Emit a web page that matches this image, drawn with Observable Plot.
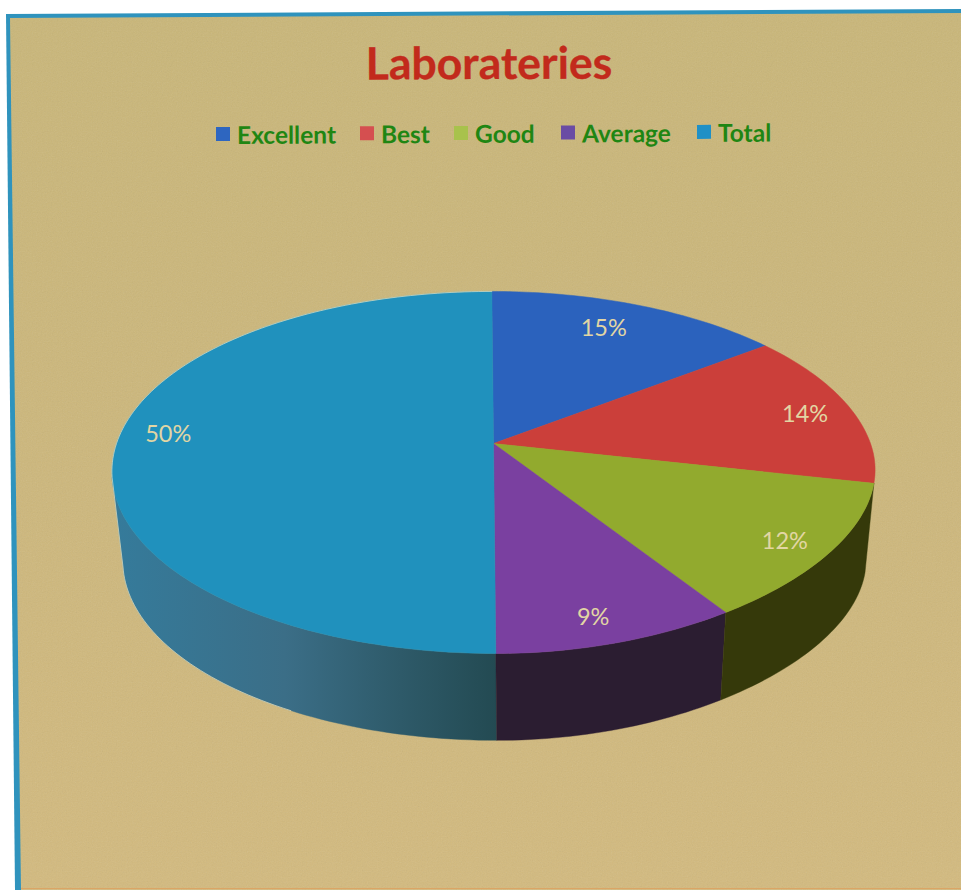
<!DOCTYPE html>
<html>
<head>
<meta charset="utf-8">
<script src="https://cdn.jsdelivr.net/npm/d3@7"></script>
<script src="https://cdn.jsdelivr.net/npm/@observablehq/plot@0.6"></script>
<style>
html,body{margin:0;padding:0;background:#fff;width:961px;height:890px;overflow:hidden}
#border,#paper{position:absolute;left:0;top:0;width:961px;height:890px}
#border{background:#2f93bd;clip-path:polygon(6px 14px,961px 9px,961px 890px,15px 890px)}
#paper{background:linear-gradient(180deg,#c9b678 0%,#cdb77b 55%,#d3ba7e 100%);clip-path:polygon(10px 18px,961px 13px,961px 890px,21px 890px)}
#noise{position:absolute;inset:0;opacity:.14;background-image:url("data:image/svg+xml;utf8,<svg xmlns='http://www.w3.org/2000/svg' width='300' height='300'><filter id='n'><feTurbulence type='fractalNoise' baseFrequency='.8' numOctaves='2'/><feColorMatrix type='saturate' values='0'/></filter><rect width='300' height='300' filter='url(%23n)'/></svg>")}
#edge{position:absolute;left:21px;top:888px;width:940px;height:1px;background:#dba565}
#title,#legend,#chart{position:absolute;font-family:Lato,"Open Sans",sans-serif}
#title{left:0;width:978px;top:34px;text-align:center;font-size:44.5px;font-weight:700;line-height:56px;color:#c22a1c;transform:rotate(-.2deg);-webkit-text-stroke:.3px #c22a1c}
#legend{left:216px;top:119px;height:30px;display:flex;align-items:center;font-size:24.5px;font-weight:700;color:#1f8613;transform:rotate(-.25deg);transform-origin:left center}
#legend .key{display:flex;align-items:center;position:absolute;white-space:nowrap}
#legend i{display:inline-block;width:14px;height:14px;margin-right:7px}
#chart{left:0;top:165px}
svg{display:block;background:transparent}
</style>
</head>
<body>
<div id="border"></div>
<div id="paper"><div id="noise"></div></div>
<div id="edge"></div>
<div id="title"></div>
<div id="legend"></div>
<div id="chart"></div>
<script>
// Data (shares recovered from the perspective of the rim; labels are rounded)
const titleText = "Laborateries";
const categories = ["Excellent", "Best", "Good", "Average", "Total"];
const shares = [14.6, 13.9, 12.1, 9.4, 50];
const topColors = ["#2b62bd", "#cb3f3a", "#92aa2e", "#7a40a0", "#2091bd"];
const legendColors = ["#2e66c0", "#d54f50", "#a8c24c", "#6a4ca4", "#1f90c6"];
const wallFills = {Good: "#35390a", Average: "#2b1d31", Total: "url(#wallTotal)"};

// Layout of the tilted pie
const hub = {x: 493, y: 443};
const A = 377, B = 176.4, k = 0.16, shear = 0.011, squeeze = 0.07;
const base = {dy: 90, sx: 0.974, sy: 0.985};
const labelRadius = [0.79, 0.87, 0.88, 0.87, 0.86];
const labelDx = [-7, 1, -2, -7, -1];
const labelDy = [-3, 3, 3, 5, -9];
const wallStartShare = {Good: 28.5, Average: 40.6, Total: 50};
const wallEndShare = {Good: 40.6, Average: 50, Total: 72};
const legendOffsets = [0, 144, 238, 345, 481];

// Perspective projection of a point on the unit disc: share is % clockwise from the top
function project(share, r = 1, floor = false) {
  const t = share / 100 * 2 * Math.PI;
  const u = r * Math.sin(t), v = -r * Math.cos(t), d = 1 - k * v;
  let px = A * u / d, py = B * v / d;
  if (u > 0 && v > 0) px *= 1 - squeeze * v * v; // the scanned page bows in at lower right
  let cy = hub.y;
  if (floor) { px *= base.sx; py *= base.sy; cy += base.dy; }
  const y = cy + py;
  return {x: hub.x + px + shear * (y - hub.y), y};
}
const arc = (from, to, floor) => {
  const n = Math.max(2, Math.ceil(Math.abs(to - from) * 3));
  return d3.range(n + 1).map(i => project(from + (to - from) * i / n, 1, floor));
};

// Cumulative starts
const starts = d3.cumsum([0, ...shares]);
const slices = categories.map((name, i) => ({name, start: starts[i], end: starts[i + 1], share: shares[i], i}));

const topRows = slices.flatMap(s => [project(s.start, 0), ...arc(s.start, s.end, false), project(s.end, 0)]
  .map(p => ({...p, name: s.name})));
const wallMarks = ["Total", "Average", "Good"].map(name => {
  const a = wallStartShare[name], b = wallEndShare[name];
  const pts = [...arc(a, b, false), ...arc(b, a, true)];
  pts.push(pts[0]);
  return Plot.line(pts, {x: "x", y: "y", fill: wallFills[name], stroke: wallFills[name], strokeWidth: 0.4});
});
const labelRows = slices.map(s => {
  const p = project((s.start + s.end) / 2, labelRadius[s.i]);
  return {x: p.x + labelDx[s.i], y: p.y + labelDy[s.i], text: Math.round(s.share) + "%"};
});
const edge = [...arc(100, 72, false), ...arc(72, 58, true)];

const defs = () => {
  const svgNS = "http://www.w3.org/2000/svg";
  const d = document.createElementNS(svgNS, "defs");
  const g = document.createElementNS(svgNS, "linearGradient");
  g.setAttribute("id", "wallTotal");
  [["0%", "#357b9b"], ["45%", "#3b6e87"], ["75%", "#2e5a69"], ["100%", "#234a52"]].forEach(([o, c]) => {
    const st = document.createElementNS(svgNS, "stop");
    st.setAttribute("offset", o); st.setAttribute("stop-color", c);
    g.appendChild(st);
  });
  d.appendChild(g);
  return d;
};

const chart = Plot.plot({
  width: 961,
  height: 725,
  margin: 0,
  x: {domain: [0, 961], range: [0, 961], axis: null},
  y: {domain: [165, 890], range: [0, 725], axis: null},
  color: {domain: categories, range: topColors},
  marks: [
    defs,
    ...wallMarks,
    Plot.line(topRows, {x: "x", y: "y", z: "name", fill: "name", stroke: "name", strokeWidth: 0.5}),
    Plot.line(edge, {x: "x", y: "y", stroke: "#ece6c4", strokeWidth: 1, strokeOpacity: 0.65}),
    Plot.text(labelRows, {x: "x", y: "y", text: "text", fill: "#e2d6a4", fontSize: 23.5, fontFamily: "Lato, 'Open Sans', sans-serif"})
  ]
});
chart.style.background = "transparent";
document.getElementById("chart").appendChild(chart);
document.getElementById("title").textContent = titleText;

const legend = document.getElementById("legend");
categories.forEach((name, i) => {
  const key = document.createElement("span");
  key.className = "key";
  key.style.left = legendOffsets[i] + "px";
  const sw = document.createElement("i");
  sw.style.background = legendColors[i];
  key.appendChild(sw);
  key.appendChild(document.createTextNode(name));
  legend.appendChild(key);
});
</script>
</body>
</html>
